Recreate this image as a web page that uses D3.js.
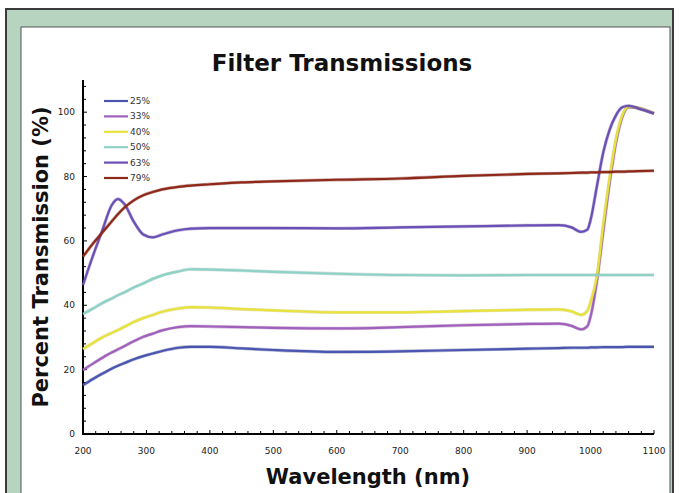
<!DOCTYPE html>
<html><head><meta charset="utf-8">
<script src="https://cdn.jsdelivr.net/npm/d3@7"></script>
<style>html,body{margin:0;padding:0;background:#fff;}svg{display:block;}</style>
</head><body>
<svg id="chart" width="679" height="493"></svg>
<script>
const title = "Filter Transmissions";
const xLabel = "Wavelength (nm)";
const yLabel = "Percent Transmission (%)";
const xTicks = [200,300,400,500,600,700,800,900,1000,1100];
const yTicks = [0,20,40,60,80,100];
const wavelengths = [200,215,230,245,255,265,280,295,310,325,350,370,400,450,500,600,700,800,900,950,970,985,995,1000,1010,1020,1030,1040,1050,1060,1075,1100];
const seriesNames = ["25%","33%","40%","50%","63%","79%"];
const seriesColors = ["#4a55b0","#a060bc","#e8e23c","#8ed2c6","#6a4fb6","#8e2818"];
const t25 = [15.2,17.0,18.7,20.3,21.2,22.0,23.2,24.2,25.0,25.8,26.8,27.1,27.1,26.6,26.1,25.5,25.7,26.1,26.5,26.7,26.8,26.8,26.8,26.9,26.9,27.0,27.0,27.0,27.0,27.1,27.1,27.1];
const t33 = [19.9,21.8,23.6,25.3,26.3,27.3,28.8,30.2,31.2,32.2,33.2,33.5,33.4,33.2,33.0,32.8,33.2,33.8,34.2,34.3,33.6,32.5,33.5,36.5,47.5,63.0,78.0,90.5,98.5,101.6,101.3,99.6];
const t40 = [26.4,28.2,30.0,31.4,32.3,33.3,34.8,36.0,37.0,38.0,39.0,39.4,39.3,38.8,38.4,37.8,37.8,38.2,38.6,38.7,38.1,37.0,38.3,41.0,49.0,65.0,79.5,91.5,99.0,101.7,101.3,99.6];
const t50 = [37.3,38.9,40.6,42.1,43.1,44.0,45.5,46.8,48.2,49.3,50.5,51.2,51.1,50.8,50.4,49.8,49.4,49.3,49.4,49.4,49.4,49.4,49.4,49.4,49.4,49.4,49.4,49.4,49.4,49.4,49.4,49.4];
const t63 = [46.3,55.0,63.0,71.0,73.0,71.5,66.0,62.0,61.1,62.0,63.3,63.8,64.0,64.0,64.0,63.9,64.2,64.5,64.8,64.9,64.2,62.8,63.5,66.5,77.0,87.5,94.5,99.0,101.5,102.0,101.2,99.6];
const t79 = [55.1,59.0,62.5,66.0,68.3,70.3,72.6,74.2,75.2,76.0,76.8,77.2,77.6,78.2,78.5,79.0,79.4,80.2,80.8,81.0,81.1,81.2,81.2,81.3,81.3,81.4,81.4,81.5,81.5,81.6,81.7,81.8];
const seriesValues = [t25,t33,t40,t50,t63,t79];

const svg = d3.select("#chart");
const W = 679, H = 493;
// frame
svg.append("rect").attr("x",0).attr("y",0).attr("width",W).attr("height",H).attr("fill","#ffffff");
svg.append("rect").attr("x",6).attr("y",9).attr("width",667).attr("height",H).attr("fill","#b7d4c1").attr("stroke","#3a3a3a").attr("stroke-width",2);
svg.append("rect").attr("x",21).attr("y",27).attr("width",649).attr("height",H).attr("fill","#ffffff").attr("stroke","#555").attr("stroke-width",1);

const x = d3.scaleLinear().domain([200,1100]).range([83,654]);
const y = d3.scaleLinear().domain([0,110]).range([434,80]);

const font = "DejaVu Sans, Verdana, sans-serif";

// title
svg.append("text").attr("x",342).attr("y",71).attr("text-anchor","middle")
  .attr("font-family",font).attr("font-weight","bold").attr("font-size",23).attr("fill","#111").text(title);

// x axis
const xAxis = svg.append("g").attr("transform","translate(0,434)");
xAxis.append("line").attr("x1",83).attr("x2",654).attr("stroke","#000").attr("stroke-width",2);
const xMinor = d3.range(200,1101,20);
xAxis.selectAll(".xt").data(xMinor).join("line")
  .attr("x1",d=>x(d)).attr("x2",d=>x(d)).attr("y1",0).attr("y2",d=>d%100===0?-4:-3)
  .attr("stroke","#000").attr("stroke-width",1);
xAxis.selectAll(".xl").data(xTicks).join("text")
  .attr("x",d=>x(d)).attr("y",20).attr("text-anchor","middle")
  .attr("font-family",font).attr("font-size",9).attr("fill","#222").text(d=>d);

// y axis
const yAxis = svg.append("g");
yAxis.append("line").attr("x1",83).attr("x2",83).attr("y1",y(110)).attr("y2",y(0)+1).attr("stroke","#000").attr("stroke-width",2);
const yMinor = d3.range(0,110.1,4);
yAxis.selectAll(".yt").data(yMinor).join("line")
  .attr("x1",83).attr("x2",d=>d%20===0?87:86).attr("y1",d=>y(d)).attr("y2",d=>y(d))
  .attr("stroke","#000").attr("stroke-width",1);
yAxis.selectAll(".yl").data(yTicks).join("text")
  .attr("x",75).attr("y",d=>y(d)+3).attr("text-anchor","end")
  .attr("font-family",font).attr("font-size",9).attr("fill","#222").text(d=>d);

// axis titles
svg.append("text").attr("x",368).attr("y",484).attr("text-anchor","middle")
  .attr("font-family",font).attr("font-weight","bold").attr("font-size",21).attr("fill","#111").text(xLabel);
svg.append("text").attr("transform","translate(48,257) rotate(-90)").attr("text-anchor","middle")
  .attr("font-family",font).attr("font-weight","bold").attr("font-size",21).attr("fill","#111").text(yLabel);

// lines
const line = d3.line().x(d=>x(d[0])).y(d=>y(d[1])).curve(d3.curveMonotoneX);
seriesValues.forEach((vals,i)=>{
  const pts = wavelengths.map((w,j)=>[w,vals[j]]);
  svg.append("path").datum(pts).attr("d",line).attr("fill","none")
    .attr("stroke",d3.color(seriesColors[i]).darker(0.6)).attr("stroke-opacity",0.35).attr("stroke-width",3.4);
  svg.append("path").datum(pts).attr("d",line).attr("fill","none")
    .attr("stroke",seriesColors[i]).attr("stroke-width",2.2);
});

// legend
const lg = svg.append("g");
seriesNames.forEach((n,i)=>{
  const yy = 101 + i*15.4;
  lg.append("line").attr("x1",104).attr("x2",128).attr("y1",yy).attr("y2",yy)
    .attr("stroke",seriesColors[i]).attr("stroke-width",2.2);
  lg.append("text").attr("x",130).attr("y",yy+3).attr("font-family",font).attr("font-size",9)
    .attr("fill","#333").text(n);
});
</script>
</body></html>
